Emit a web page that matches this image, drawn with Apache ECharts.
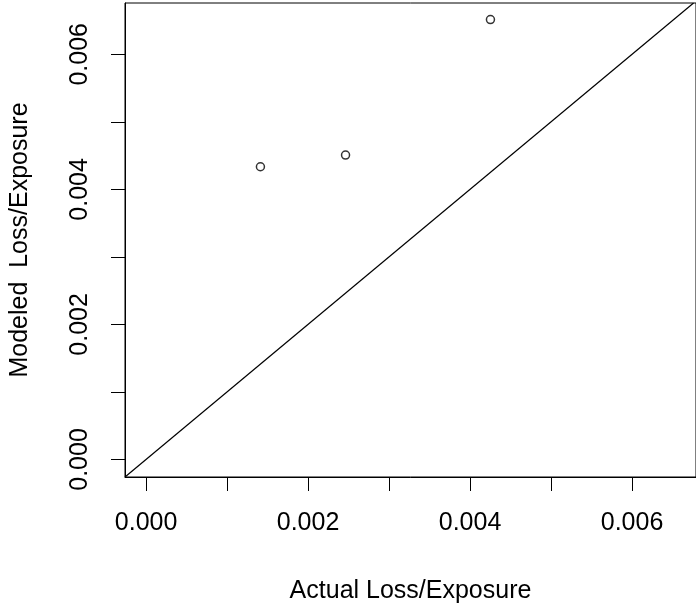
<!DOCTYPE html>
<html>
<head>
	<meta charset="utf-8">
	<title>Modeled vs Actual Loss/Exposure</title>
	<script type="text/javascript" src="https://cdn.jsdelivr.net/npm/echarts@6/dist/echarts.min.js"></script>
<style type="text/css">
html, body { margin: 0; padding: 0; background: #fff; }
#main { width: 696px; height: 609px; }
</style>
</head>
<body>
<div id="main"></div>

<script type="text/javascript">
// points
var actual  = [0.001412, 0.002463, 0.004252];
var modeled = [0.004335, 0.004508, 0.006514];

// axis limits (R style, 4% padding around 0..0.0065)
var axisLim = [-0.00026, 0.00679];
var tickValues  = [0, 0.001, 0.002, 0.003, 0.004, 0.005, 0.006];
var labelValues = [0, 0.002, 0.004, 0.006];

var xLabel = 'Actual Loss/Exposure';
var yLabel = 'Modeled  Loss/Exposure';

var font = "'Liberation Sans', Arial, sans-serif";

var points = [];
for (var i = 0; i < actual.length; i++)
{
	points.push([actual[i], modeled[i]]);
}
// y = x reference line across the whole plot
var identity = [[axisLim[0], axisLim[0]], [axisLim[1], axisLim[1]]];

function axisOpt(name, isY)
{
	return {
		type: 'value',
		min: axisLim[0],
		max: isY ? 0.00676 : axisLim[1],
		name: name,
		nameLocation: 'middle',
		nameGap: isY ? 92 : 102,
		nameTextStyle: { color: '#000', fontSize: 25, fontFamily: font },
		axisLine: { show: true, onZero: false, lineStyle: { color: '#000', width: 1 } },
		axisTick: {
			show: true, inside: false, length: 14,
			customValues: tickValues,
			lineStyle: { color: '#000', width: 1 }
		},
		axisLabel: {
			customValues: labelValues,
			color: '#000', fontSize: 25, fontFamily: font,
			margin: isY ? 32 : 34,
			rotate: isY ? 90 : 0,
			formatter: function (v) { return v.toFixed(3); }
		},
		splitLine: { show: false }
	};
}

var chart = echarts.init(document.getElementById('main'));
chart.setOption({
	animation: false,
	backgroundColor: '#fff',
	grid: {
		left: 123, top: 3, right: -3, bottom: 128,
		show: true, borderColor: '#000', borderWidth: 1,
		backgroundColor: 'transparent'
	},
	xAxis: axisOpt(xLabel, false),
	yAxis: axisOpt(yLabel, true),
	series: [
		{
			type: 'line',
			data: [[axisLim[0], axisLim[0]], [0.00676, 0.00676]],
			showSymbol: false,
			silent: true,
			lineStyle: { color: '#000', width: 1.2 }
		},
		{
			type: 'scatter',
			data: points,
			symbol: 'circle',
			symbolSize: 8,
			itemStyle: { color: '#fff', borderColor: '#000', borderWidth: 1.5 }
		}
	]
});
</script>
</body>
</html>
